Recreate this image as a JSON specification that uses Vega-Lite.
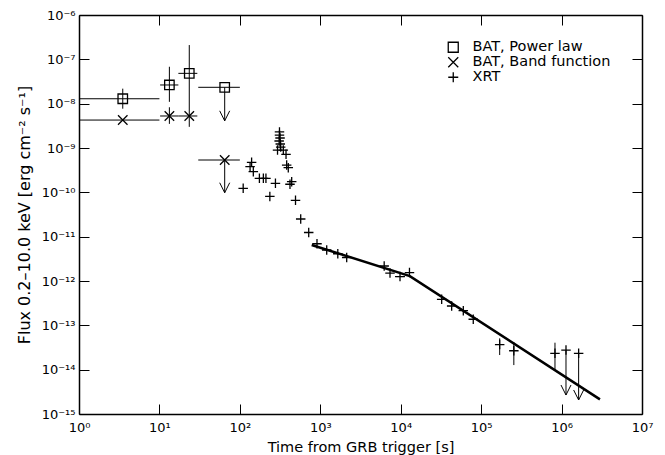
{
  "$schema": "https://vega.github.io/schema/vega-lite/v6.json",
  "width": 563,
  "height": 399,
  "autosize": {"type": "none"},
  "padding": {"left": 79, "top": 15, "right": 23, "bottom": 41},
  "background": "white",
  "config": {
    "view": {"stroke": null},
    "font": "DejaVu Sans",
    "axis": {
      "domainColor": "black",
      "domainWidth": 1.5,
      "tickColor": "black",
      "tickWidth": 1,
      "tickSize": -10,
      "grid": false,
      "labelFont": "DejaVu Sans",
      "labelFontSize": 13,
      "labelColor": "black",
      "labelFlush": false,
      "labelOverlap": false,
      "titleFont": "DejaVu Sans",
      "titleFontSize": 14.5,
      "titleFontWeight": "normal",
      "titleColor": "black"
    },
    "legend": {
      "labelFont": "DejaVu Sans",
      "labelFontSize": 14.5,
      "labelColor": "black",
      "symbolSize": 100,
      "symbolStrokeWidth": 1.3,
      "symbolStrokeColor": "black",
      "symbolFillColor": "transparent",
      "labelOffset": 12,
      "rowPadding": -1.5,
      "padding": 0
    }
  },
  "datasets": {
    "obs": [
      {"series": "BAT, Power law", "t": 3.5, "tmin": 1, "tmax": 10, "F": 1.29e-8, "Flo": 7.7e-9, "Fhi": 2.18e-8},
      {"series": "BAT, Power law", "t": 13.3, "tmin": 10.2, "tmax": 17.2, "F": 2.64e-8, "Flo": 1.1e-8, "Fhi": 6.8e-8},
      {"series": "BAT, Power law", "t": 23.5, "tmin": 17.2, "tmax": 29.6, "F": 4.83e-8, "Flo": 3.0e-9, "Fhi": 2.1e-7},
      {"series": "BAT, Power law", "t": 64.8, "tmin": 30.4, "tmax": 100, "F": 2.34e-8, "Flim": 4.1e-9},
      {"series": "BAT, Band function", "t": 3.5, "tmin": 1, "tmax": 10, "F": 4.27e-9},
      {"series": "BAT, Band function", "t": 13.3, "tmin": 10.2, "tmax": 17.2, "F": 5.27e-9, "Flo": 3.5e-9, "Fhi": 8.3e-9},
      {"series": "BAT, Band function", "t": 23.5, "tmin": 17.2, "tmax": 29.6, "F": 5.27e-9},
      {"series": "BAT, Band function", "t": 64.8, "tmin": 30.4, "tmax": 100, "F": 5.36e-10, "Flim": 9.8e-11},
      {"series": "XRT", "t": 110, "F": 1.23e-10},
      {"series": "XRT", "t": 140, "F": 4.75e-10},
      {"series": "XRT", "t": 134, "F": 3.79e-10},
      {"series": "XRT", "t": 147, "F": 2.92e-10},
      {"series": "XRT", "t": 175, "F": 2.07e-10},
      {"series": "XRT", "t": 196, "F": 2.07e-10},
      {"series": "XRT", "t": 211, "F": 2.07e-10},
      {"series": "XRT", "t": 236, "F": 8.1e-11},
      {"series": "XRT", "t": 277, "F": 1.6e-10},
      {"series": "XRT", "t": 294, "F": 9.0e-10},
      {"series": "XRT", "t": 311, "F": 2.3e-9},
      {"series": "XRT", "t": 311, "F": 1.96e-9},
      {"series": "XRT", "t": 316, "F": 1.68e-9},
      {"series": "XRT", "t": 308, "F": 1.44e-9},
      {"series": "XRT", "t": 318, "F": 1.23e-9},
      {"series": "XRT", "t": 322, "F": 1.05e-9},
      {"series": "XRT", "t": 347, "F": 9.0e-10},
      {"series": "XRT", "t": 375, "F": 7.2e-10},
      {"series": "XRT", "t": 382, "F": 4.13e-10},
      {"series": "XRT", "t": 400, "F": 3.59e-10},
      {"series": "XRT", "t": 441, "F": 1.74e-10},
      {"series": "XRT", "t": 420, "F": 1.52e-10},
      {"series": "XRT", "t": 492, "F": 6.6e-11},
      {"series": "XRT", "t": 571, "F": 2.5e-11},
      {"series": "XRT", "t": 718, "F": 1.24e-11},
      {"series": "XRT", "t": 910, "F": 6.93e-12},
      {"series": "XRT", "t": 1202, "F": 5.0e-12},
      {"series": "XRT", "t": 1651, "F": 4.12e-12},
      {"series": "XRT", "t": 2130, "F": 3.39e-12},
      {"series": "XRT", "t": 6230, "F": 2.18e-12},
      {"series": "XRT", "t": 7360, "F": 1.51e-12},
      {"series": "XRT", "t": 9800, "tmin": 8490, "tmax": 11300, "F": 1.26e-12},
      {"series": "XRT", "t": 12850, "F": 1.55e-12},
      {"series": "XRT", "t": 32300, "F": 3.86e-13},
      {"series": "XRT", "t": 43000, "F": 2.73e-13},
      {"series": "XRT", "t": 60000, "F": 2.14e-13},
      {"series": "XRT", "t": 79800, "F": 1.37e-13},
      {"series": "XRT", "t": 170000, "F": 3.69e-14, "Flo": 2.14e-14, "Fhi": 5.09e-14},
      {"series": "XRT", "t": 255000, "F": 2.67e-14, "Flo": 1.27e-14, "Fhi": 4.2e-14},
      {"series": "XRT", "t": 828000, "F": 2.34e-14, "Flo": 9.8e-15, "Fhi": 4.06e-14},
      {"series": "XRT", "t": 1135000, "F": 2.77e-14, "Flim": 2.68e-15},
      {"series": "XRT", "t": 1630000, "F": 2.34e-14, "Flim": 2.07e-15}
    ],
    "model": [
      {"t": 782, "F": 6.5e-12},
      {"t": 13000, "F": 1.29e-12},
      {"t": 3000000, "F": 2.14e-15}
    ]
  },
  "layer": [
    {
      "layer": [
        {
          "data": {"name": "obs"},
          "transform": [{"filter": "isValid(datum.tmin)"}],
          "mark": {"type": "rule", "color": "black", "strokeWidth": 1},
          "encoding": {
            "x": {
              "field": "tmin", "type": "quantitative",
              "scale": {"type": "log", "domain": [1, 10000000], "nice": false},
              "axis": {
                "orient": "bottom",
                "title": "Time from GRB trigger [s]",
                "values": [1, 10, 100, 1000, 10000, 100000, 1000000, 10000000],
                "labelExpr": "'10' + ['⁰','¹','²','³','⁴','⁵','⁶','⁷'][round(log(datum.value)/LN10)]",
                "labelPadding": 17,
                "titlePadding": 6
              }
            },
            "x2": {"field": "tmax"},
            "y": {
              "field": "F", "type": "quantitative",
              "scale": {"type": "log", "domain": [1e-15, 1e-6], "nice": false},
              "axis": {
                "orient": "left",
                "title": "Flux 0.2–10.0 keV [erg cm⁻² s⁻¹]",
                "titleFontSize": 16,
                "values": [1e-15, 1e-14, 1e-13, 1e-12, 1e-11, 1e-10, 1e-9, 1e-8, 1e-7, 1e-6],
                "labelExpr": "'10⁻' + ['','','','','','','⁶','⁷','⁸','⁹','¹⁰','¹¹','¹²','¹³','¹⁴','¹⁵'][round(-log(datum.value)/LN10)]",
                "labelPadding": 14,
                "titlePadding": 9
              }
            }
          }
        },
        {
          "data": {"name": "obs"},
          "transform": [{"filter": "isValid(datum.Flo)"}],
          "mark": {"type": "rule", "color": "black", "strokeWidth": 1},
          "encoding": {
            "x": {"field": "t", "type": "quantitative", "scale": {"type": "log", "domain": [1, 10000000], "nice": false}},
            "y": {"field": "Flo", "type": "quantitative", "scale": {"type": "log", "domain": [1e-15, 1e-6], "nice": false}},
            "y2": {"field": "Fhi"}
          }
        },
        {
          "data": {"name": "obs"},
          "transform": [{"filter": "isValid(datum.Flim)"}],
          "mark": {"type": "rule", "color": "black", "strokeWidth": 1},
          "encoding": {
            "x": {"field": "t", "type": "quantitative", "scale": {"type": "log", "domain": [1, 10000000], "nice": false}},
            "y": {"field": "F", "type": "quantitative", "scale": {"type": "log", "domain": [1e-15, 1e-6], "nice": false}},
            "y2": {"field": "Flim"}
          }
        },
        {
          "data": {"name": "obs"},
          "transform": [{"filter": "isValid(datum.Flim)"}],
          "mark": {"type": "point", "shape": "M-1,-2L0,0L1,-2", "filled": false, "color": "black", "size": 100, "strokeWidth": 1, "opacity": 1},
          "encoding": {
            "x": {"field": "t", "type": "quantitative", "scale": {"type": "log", "domain": [1, 10000000], "nice": false}},
            "y": {"field": "Flim", "type": "quantitative", "scale": {"type": "log", "domain": [1e-15, 1e-6], "nice": false}}
          }
        },
        {
          "data": {"name": "obs"},
          "mark": {"type": "point", "filled": false, "color": "black", "size": 90, "strokeWidth": 1.3, "opacity": 1},
          "encoding": {
            "x": {"field": "t", "type": "quantitative", "scale": {"type": "log", "domain": [1, 10000000], "nice": false}},
            "y": {"field": "F", "type": "quantitative", "scale": {"type": "log", "domain": [1e-15, 1e-6], "nice": false}},
            "shape": {
              "field": "series", "type": "nominal",
              "scale": {
                "domain": ["BAT, Power law", "BAT, Band function", "XRT"],
                "range": ["square", "M-1,-1L1,1M-1,1L1,-1", "M-1,0L1,0M0,-1L0,1"]
              },
              "legend": {"orient": "none", "legendX": 367, "legendY": 25, "title": null}
            }
          }
        }
      ]
    },
    {
      "data": {"name": "model"},
      "mark": {"type": "line", "color": "black", "strokeWidth": 2.5},
      "encoding": {
        "x": {
          "field": "t", "type": "quantitative",
          "scale": {"type": "log", "domain": [1, 10000000], "nice": false},
          "axis": {"orient": "top", "labels": false, "title": null, "values": [1, 10, 100, 1000, 10000, 100000, 1000000, 10000000]}
        },
        "y": {
          "field": "F", "type": "quantitative",
          "scale": {"type": "log", "domain": [1e-15, 1e-6], "nice": false},
          "axis": {"orient": "right", "labels": false, "title": null, "values": [1e-15, 1e-14, 1e-13, 1e-12, 1e-11, 1e-10, 1e-9, 1e-8, 1e-7, 1e-6]}
        }
      }
    }
  ],
  "resolve": {"axis": {"x": "independent", "y": "independent"}}
}
